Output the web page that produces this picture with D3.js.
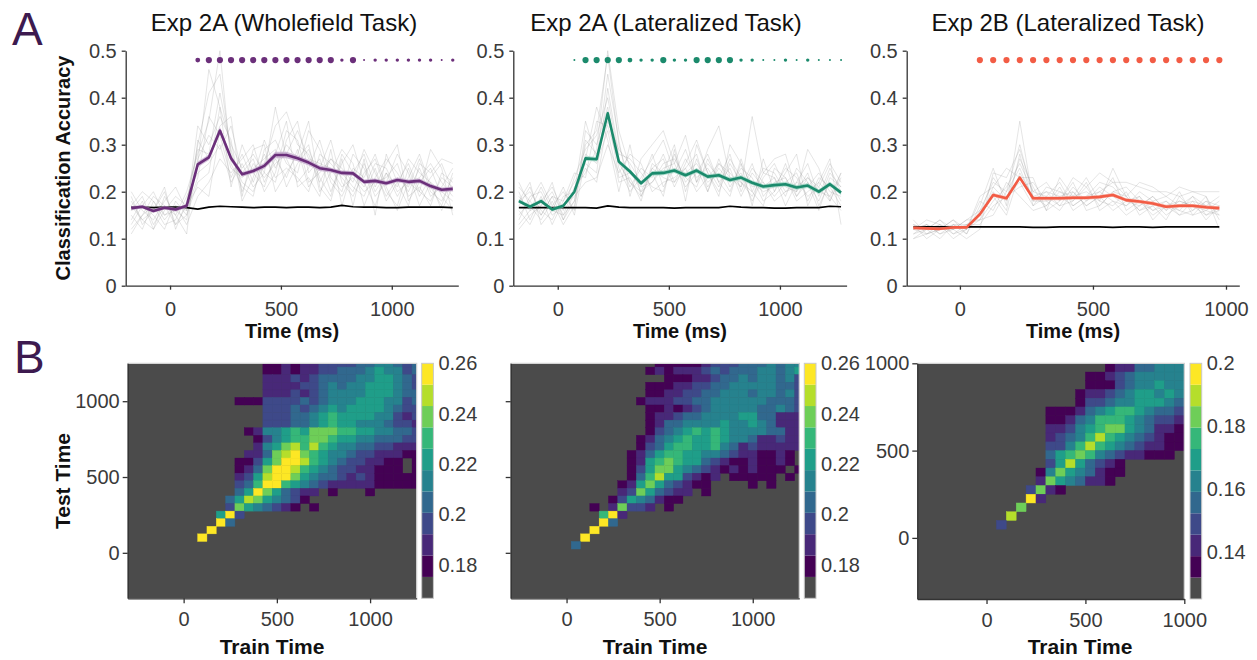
<!DOCTYPE html>
<html>
<head>
<meta charset="utf-8">
<script src="https://cdn.jsdelivr.net/npm/d3@7"></script>
<style>
	body { margin: 0; background: #fff; }
</style>
</head>
<body>
<svg id="fig" width="1257" height="660"></svg>
<script>
// ---- Data: top row (classification accuracy over time) ----

const timesExp2A = [-175, -125, -75, -25, 25, 75, 125, 175, 225, 275, 325, 375, 425, 475, 525, 575, 625, 675, 725, 775, 825, 875, 925, 975, 1025, 1075, 1125, 1175, 1225, 1275]
const timesExp2B = [-175, -125, -75, -25, 25, 75, 125, 175, 225, 275, 325, 375, 425, 475, 525, 575, 625, 675, 725, 775, 825, 875, 925, 975]

const meanWhole = [0.165, 0.168, 0.159, 0.166, 0.162, 0.170, 0.258, 0.273, 0.330, 0.271, 0.237, 0.244, 0.255, 0.278, 0.278, 0.271, 0.262, 0.250, 0.246, 0.240, 0.239, 0.221, 0.223, 0.218, 0.225, 0.221, 0.223, 0.212, 0.204, 0.206]
const semWhole = [0.004, 0.004, 0.004, 0.004, 0.004, 0.004, 0.006, 0.006, 0.007, 0.006, 0.005, 0.005, 0.006, 0.007, 0.007, 0.006, 0.006, 0.006, 0.005, 0.005, 0.005, 0.005, 0.005, 0.005, 0.005, 0.005, 0.005, 0.005, 0.005, 0.005]
const chanceWhole = [0.167, 0.167, 0.166, 0.167, 0.167, 0.166, 0.163, 0.167, 0.169, 0.168, 0.167, 0.166, 0.167, 0.167, 0.166, 0.167, 0.167, 0.166, 0.167, 0.171, 0.168, 0.167, 0.167, 0.166, 0.166, 0.167, 0.167, 0.167, 0.167, 0.166]
// significance class per time point (0 = none, 4 = strongest)
const sigWhole = [0, 0, 0, 0, 0, 0, 3, 4, 4, 4, 4, 4, 4, 4, 4, 4, 4, 4, 4, 2, 4, 1, 2, 2, 2, 2, 2, 2, 1, 2]
const subjectsWhole = [
	'18 14 16 20 13 17 30 41 45 28 22 20 26 34 37 30 28 22 27 24 21 19 25 18 22 26 20 18 23 21',
	'13 17 15 12 18 15 22 24 38 30 25 28 24 22 31 35 24 27 20 26 30 22 17 24 19 23 28 21 17 24',
	'16 19 13 17 15 20 28 35 50 26 21 19 29 31 26 24 33 29 22 19 24 28 21 26 30 18 22 25 19 16',
	'15 12 18 14 17 13 19 22 27 24 27 30 22 27 23 29 21 25 31 22 19 24 27 20 17 25 19 23 26 20',
	'20 16 14 18 21 16 34 30 36 31 18 23 31 25 30 27 30 20 24 29 26 17 23 27 24 20 25 19 21 25',
	'12 15 17 13 14 19 24 26 30 22 26 21 24 38 27 22 25 31 23 20 28 25 19 22 28 24 17 22 20 18',
	'17 20 18 15 16 14 27 32 29 34 24 27 20 24 33 31 22 24 27 25 22 29 24 19 23 21 27 20 18 23',
	'14 18 12 16 19 17 21 19 33 25 23 25 27 29 21 26 29 23 19 28 24 21 26 25 20 22 23 26 22 19',
	'19 13 16 21 12 18 29 28 41 29 20 26 23 26 28 33 27 26 25 21 23 20 22 23 26 19 21 17 24 22',
	'16 17 20 15 17 16 23 36 32 23 28 22 28 23 25 23 20 28 26 23 20 26 20 24 21 27 24 22 16 21',
	'11 15 19 17 13 15 26 46 38 21 30 24 21 28 35 21 23 19 29 17 25 23 28 21 16 22 20 29 25 15',
	'17 14 12 19 15 11 31 27 34 36 19 29 30 20 24 28 35 21 18 27 17 27 15 28 22 17 26 24 27 26'
]

const meanLat = [0.180, 0.168, 0.180, 0.162, 0.170, 0.200, 0.271, 0.269, 0.367, 0.264, 0.243, 0.218, 0.239, 0.240, 0.245, 0.235, 0.245, 0.232, 0.235, 0.225, 0.230, 0.219, 0.211, 0.214, 0.216, 0.209, 0.213, 0.200, 0.216, 0.198]
const semLat = [0.004, 0.004, 0.004, 0.004, 0.004, 0.004, 0.005, 0.005, 0.006, 0.005, 0.005, 0.005, 0.005, 0.005, 0.005, 0.005, 0.005, 0.005, 0.005, 0.005, 0.005, 0.005, 0.005, 0.005, 0.005, 0.005, 0.005, 0.005, 0.005, 0.005]
const chanceLat = [0.166, 0.166, 0.166, 0.166, 0.166, 0.166, 0.166, 0.165, 0.170, 0.167, 0.166, 0.166, 0.166, 0.166, 0.165, 0.166, 0.166, 0.166, 0.166, 0.169, 0.167, 0.166, 0.166, 0.165, 0.165, 0.166, 0.166, 0.166, 0.169, 0.168]
const sigLat = [0, 0, 0, 0, 0, 1, 4, 4, 4, 4, 3, 2, 2, 4, 2, 2, 4, 4, 4, 4, 2, 2, 1, 1, 2, 1, 2, 1, 1, 1]
const subjectsLat = [
	'17 21 15 19 14 18 30 33 49 30 22 19 25 27 21 26 31 24 20 26 22 19 24 23 19 25 22 18 24 21',
	'20 14 19 13 18 22 26 24 42 28 27 24 21 20 28 22 25 20 27 21 25 23 18 20 26 19 23 21 18 23',
	'15 18 22 17 20 16 33 30 38 25 20 23 27 31 24 29 22 26 23 28 20 25 22 19 22 24 18 23 21 17',
	'19 16 17 20 15 21 24 29 50 33 25 20 22 25 26 21 24 28 22 19 27 20 25 24 20 22 26 19 25 20',
	'14 19 20 15 17 19 22 23 30 24 28 26 20 22 23 25 20 23 26 24 21 26 19 22 23 18 20 22 19 24',
	'22 17 14 18 13 17 28 26 33 22 23 18 26 24 30 20 27 21 25 22 24 18 23 26 21 20 24 17 22 18',
	'16 13 18 21 16 23 29 32 40 27 21 25 23 28 22 27 23 25 21 27 23 22 20 21 25 23 19 21 26 22',
	'18 20 16 14 19 20 25 22 35 29 26 22 28 21 25 24 26 22 24 20 26 21 22 18 20 21 23 20 19 16',
	'13 16 21 16 15 18 31 28 37 23 24 21 22 26 27 23 21 27 22 25 19 24 21 23 17 22 21 24 20 19',
	'21 18 15 19 18 24 23 35 34 26 22 20 25 23 22 25 28 20 26 23 22 20 17 25 23 19 22 16 23 21',
	'12 15 17 22 14 20 35 27 45 31 19 27 30 33 26 32 22 29 34 23 21 36 24 27 28 20 29 25 18 24',
	'18 22 13 16 21 15 27 38 31 20 30 19 24 19 29 18 30 24 19 30 26 17 27 20 24 28 17 22 27 13'
]

const mean2B = [0.123, 0.122, 0.121, 0.124, 0.124, 0.152, 0.193, 0.186, 0.230, 0.186, 0.186, 0.186, 0.187, 0.187, 0.189, 0.193, 0.182, 0.179, 0.175, 0.168, 0.170, 0.170, 0.167, 0.165]
const sem2B = [0.003, 0.003, 0.003, 0.003, 0.003, 0.003, 0.004, 0.004, 0.004, 0.004, 0.004, 0.004, 0.004, 0.004, 0.004, 0.004, 0.004, 0.004, 0.004, 0.004, 0.004, 0.004, 0.004, 0.004]
const chance2B = [0.125, 0.125, 0.125, 0.125, 0.125, 0.125, 0.125, 0.125, 0.125, 0.124, 0.124, 0.125, 0.125, 0.125, 0.125, 0.124, 0.125, 0.125, 0.124, 0.125, 0.125, 0.125, 0.125, 0.125]
const sig2B = [0, 0, 0, 0, 0, 4, 4, 4, 4, 4, 4, 4, 4, 4, 4, 4, 4, 4, 4, 4, 4, 4, 4, 4]
const subjects2B = [
	'12 11 13 12 14 16 22 20 30 19 17 20 18 21 17 20 19 16 18 15 17 19 15 16',
	'11 13 12 14 12 14 18 21 26 20 19 17 21 18 20 18 17 19 16 18 16 15 18 17',
	'13 12 10 13 11 17 25 17 35 18 20 19 17 19 22 21 18 17 19 16 18 17 16 15',
	'12 14 13 11 13 13 17 19 21 22 18 16 20 17 19 23 16 18 15 17 15 18 17 19',
	'10 12 14 12 13 15 20 16 28 17 21 20 19 20 18 17 20 15 17 14 19 16 19 14',
	'14 11 12 13 12 18 16 22 19 16 17 21 16 18 21 19 17 20 18 19 17 18 14 17',
	'12 13 11 12 14 14 21 18 27 21 16 18 22 16 17 20 21 18 16 17 16 19 17 16',
	'13 10 12 14 11 16 19 15 24 19 20 17 18 22 16 18 15 17 19 16 20 15 16 18',
	'11 12 13 10 12 15 23 19 22 17 19 22 17 19 20 22 19 16 17 18 15 16 18 15',
	'12 13 11 13 13 14 15 20 25 18 18 19 20 17 19 16 18 19 14 17 18 17 15 17',
	'10 11 12 12 10 12 24 23 29 20 22 18 23 21 24 22 22 21 20 20 19 20 20 20',
	'13 12 14 11 12 19 21 25 23 23 16 23 19 23 18 25 19 22 21 19 21 20 19 12'
]

// ---- Data: bottom row (temporal generalization) ----
// each character is the colour band (0 = grey, 1..A = viridis bands)

const trainB1 = [100, 150, 200, 250, 300, 350, 400, 450, 500, 550, 600, 650, 700, 750, 800, 850, 900, 950, 1000, 1050, 1100, 1150, 1200, 1250]
const testB1 = [1250, 1200, 1150, 1100, 1050, 1000, 950, 900, 850, 800, 750, 700, 650, 600, 550, 500, 450, 400, 350, 300, 250, 200, 150, 100]
const gridB1 = [
	'000000011212233334455434',
	'000000011212233444565534',
	'000000022232344445566543',
	'000000022223345455666543',
	'000000022232345555666544',
	'000011133334345556665534',
	'000000033343456566665433',
	'000000033344567666655323',
	'000000033344567665554332',
	'000001255676888776655443',
	'000000135677887665544433',
	'000000256897976554433222',
	'0000022489A8765543322211',
	'000011368AA9765433221101',
	'00001248AA97654332211101',
	'00002369AA86544323211111',
	'0000347AA765432222211111',
	'000046A86432201000100000',
	'0004698654310',
	'0003865432101',
	'006A3',
	'00A4',
	'0A',
	'A'
]

const trainB2 = [50, 100, 150, 200, 250, 300, 350, 400, 450, 500, 550, 600, 650, 700, 750, 800, 850, 900, 950, 1000, 1050, 1100, 1150, 1200, 1250]
const testB2 = [1250, 1200, 1150, 1100, 1050, 1000, 950, 900, 850, 800, 750, 700, 650, 600, 550, 500, 450, 400, 350, 300, 250, 200, 150, 100, 50]
const gridB2 = [
	'0000000001111123334445455',
	'0000000012122234344455456',
	'0000000000111223445455453',
	'0000000011122334455555443',
	'0000000011223344555455453',
	'0000000122233445555554443',
	'0000000011212345555544543',
	'0000000012234455556644222',
	'0000000012445555655654222',
	'0000000013456767655554422',
	'0000000124567667655422322',
	'0000000134677667542322222',
	'0000001246776655432211210',
	'0000001267876643211211210',
	'0000001368865432121211101',
	'0000001479663212011111010',
	'0000012686432110000101',
	'000002386432201',
	'000013654211',
	'00102833201',
	'0007A2',
	'000A4',
	'00A',
	'0A',
	'4'
]

const trainB3 = [75, 125, 175, 225, 275, 325, 375, 425, 475, 525, 575, 625, 675, 725, 775, 825, 875, 925, 975]
const testB3 = [975, 925, 875, 825, 775, 725, 675, 625, 575, 525, 475, 425, 375, 325, 275, 225, 175, 125, 75]
const gridB3 = [
	'0000000000012244555',
	'0000000001123455555',
	'0000000001113455655',
	'0000000012234566565',
	'0000000013345566654',
	'0000011124567765443',
	'0000011245777654332',
	'0000022356788654221',
	'0000023457976543211',
	'0000033579765432211',
	'0000046787543221110',
	'0000036964321',
	'0000158654211',
	'000028654221',
	'0003821',
	'000A2',
	'008',
	'09',
	'3'
]

const colorbarTicksA = [0.18, 0.2, 0.22, 0.24, 0.26]
const colorbarTicksB = [0.14, 0.16, 0.18, 0.2]

// ---- Drawing ----

const svg = d3.select('#fig')
const font = '"Liberation Sans", Arial, Helvetica, sans-serif'
const heatGrey = '#4b4b4b'

function styleAxis(g, size) {
	g.attr('font-family', font).attr('font-size', size)
	g.select('.domain').attr('stroke', '#333').attr('stroke-width', 1.3)
	g.selectAll('.tick line').attr('stroke', '#333').attr('stroke-width', 1.3)
	g.selectAll('.tick text').attr('fill', '#3a3a3a')
}

function label(text, x, y, opts = {}) {
	const t = svg
		.append('text')
		.attr('x', x)
		.attr('y', y)
		.attr('text-anchor', opts.anchor || 'middle')
		.attr('font-family', font)
		.attr('font-size', opts.size || 20)
		.attr('font-weight', opts.weight || 'normal')
		.attr('fill', opts.fill || '#111')
		.text(text)
	if (opts.rotate) t.attr('transform', `rotate(-90,${x},${y})`)
	return t
}

function drawLinePanel(p) {
	const x = d3.scaleLinear().domain(p.xDomain).range(p.xRange)
	const y = d3.scaleLinear().domain([0, 0.5]).range([285.7, 50.7])
	const r = d3.scaleOrdinal().domain([1, 2, 3, 4]).range([1.0, 1.7, 2.4, 3.1])
	const g = svg.append('g')

	g.append('g')
		.attr('transform', `translate(0,${y(0)})`)
		.call(
			d3
				.axisBottom(x)
				.tickValues([0, 500, 1000])
				.tickFormat(d3.format('d'))
				.tickSize(4)
				.tickSizeOuter(0)
				.tickPadding(12)
		)
		.call((a) => styleAxis(a, 20))

	g.append('g')
		.attr('transform', `translate(${x(p.xDomain[0])},0)`)
		.call(
			d3
				.axisLeft(y)
				.tickValues([0, 0.1, 0.2, 0.3, 0.4, 0.5])
				.tickFormat((d) => (d === 0 ? '0' : d3.format('.1f')(d)))
				.tickSize(4)
				.tickSizeOuter(0)
				.tickPadding(5)
		)
		.call((a) => styleAxis(a, 20))

	const line = d3
		.line()
		.x((d, i) => x(p.times[i]))
		.y((d) => y(d))

	p.subjects.forEach((s) => {
		const vals = s.split(' ').map((v) => +v / 100)
		g.append('path')
			.datum(vals)
			.attr('fill', 'none')
			.attr('stroke', '#8a8a8a')
			.attr('stroke-opacity', 0.32)
			.attr('stroke-width', 0.7)
			.attr('d', line)
	})

	g.append('path')
		.datum(p.chance)
		.attr('fill', 'none')
		.attr('stroke', '#000')
		.attr('stroke-width', 1.7)
		.attr('d', line)

	const band = d3
		.area()
		.x((d, i) => x(p.times[i]))
		.y0((d, i) => y(d - p.sem[i]))
		.y1((d, i) => y(d + p.sem[i]))

	g.append('path').datum(p.mean).attr('fill', p.band).attr('fill-opacity', 0.7).attr('d', band)

	g.append('path')
		.datum(p.mean)
		.attr('fill', 'none')
		.attr('stroke', p.color)
		.attr('stroke-width', 2.6)
		.attr('stroke-linejoin', 'round')
		.attr('d', line)

	g.selectAll('.sig')
		.data(p.sig.map((s, i) => ({ t: p.times[i], s })).filter((d) => d.s > 0))
		.enter()
		.append('circle')
		.attr('class', 'sig')
		.attr('cx', (d) => x(d.t))
		.attr('cy', y(0.48))
		.attr('r', (d) => r(d.s))
		.attr('fill', p.color)

	label(p.title, p.titleX, 31, { size: 24 })
	label('Time (ms)', (p.xRange[0] + p.xRange[1]) / 2, 338, { weight: 'bold' })
}

function drawHeatmap(h) {
	const x = d3.scaleLinear().domain(h.domain).range(h.xRange)
	const y = d3.scaleLinear().domain(h.domain).range(h.yRange)
	const bands = [heatGrey].concat(d3.range(10).map((i) => d3.interpolateViridis(i / 9)))
	const color = d3.scaleQuantize().domain([h.lo, h.hi]).range(bands)
	const step = (h.hi - h.lo) / bands.length
	const g = svg.append('g')
	const clip = 'clip-' + h.id

	g.append('clipPath')
		.attr('id', clip)
		.append('rect')
		.attr('x', h.xRange[0])
		.attr('y', h.yRange[1])
		.attr('width', h.xRange[1] - h.xRange[0])
		.attr('height', h.yRange[0] - h.yRange[1])

	g.append('rect')
		.attr('x', h.xRange[0])
		.attr('y', h.yRange[1])
		.attr('width', h.xRange[1] - h.xRange[0])
		.attr('height', h.yRange[0] - h.yRange[1])
		.attr('fill', heatGrey)

	const cells = []
	h.grid.forEach((row, i) => {
		row.padEnd(h.train.length, '0')
			.split('')
			.forEach((ch, j) => {
				const band = parseInt(ch, 16)
				if (band > 0) cells.push({ train: h.train[j], test: h.test[i], value: h.lo + (band + 0.5) * step })
			})
	})

	g.append('g')
		.attr('clip-path', `url(#${clip})`)
		.selectAll('rect')
		.data(cells)
		.enter()
		.append('rect')
		.attr('x', (d) => x(d.train - 25))
		.attr('y', (d) => y(d.test + 25))
		.attr('width', (d) => x(d.train + 25) - x(d.train - 25))
		.attr('height', (d) => y(d.test - 25) - y(d.test + 25))
		.attr('fill', (d) => color(d.value))
		.attr('stroke', (d) => color(d.value))
		.attr('stroke-width', 0.4)

	// light frame on top and right
	g.append('path')
		.attr('d', `M${h.xRange[0]},${h.yRange[1]}H${h.xRange[1]}V${h.yRange[0]}`)
		.attr('fill', 'none')
		.attr('stroke', '#d4d4d4')
		.attr('stroke-width', 1.2)

	g.append('g')
		.attr('transform', `translate(0,${h.yRange[0]})`)
		.call(
			d3
				.axisBottom(x)
				.tickValues([0, 500, 1000])
				.tickFormat(d3.format('d'))
				.tickSize(5)
				.tickSizeOuter(0)
				.tickPadding(9)
		)
		.call((a) => styleAxis(a, 20))

	g.append('g')
		.attr('transform', `translate(${h.xRange[0]},0)`)
		.call(
			d3
				.axisLeft(y)
				.tickValues([0, 500, 1000])
				.tickFormat(h.yLabels ? d3.format('d') : () => '')
				.tickSize(5)
				.tickSizeOuter(0)
				.tickPadding(3)
		)
		.call((a) => styleAxis(a, 20))

	// colour bar
	const cy = d3.scaleLinear().domain([h.lo, h.hi]).range(h.yRange)
	const cb = g.append('g')
	cb.selectAll('rect')
		.data(color.range())
		.enter()
		.append('rect')
		.attr('x', h.cbX)
		.attr('y', (c) => cy(color.invertExtent(c)[1]))
		.attr('width', 11.7)
		.attr('height', (c) => cy(color.invertExtent(c)[0]) - cy(color.invertExtent(c)[1]))
		.attr('fill', (c) => c)
	cb.append('rect')
		.attr('x', h.cbX)
		.attr('y', h.yRange[1])
		.attr('width', 11.7)
		.attr('height', h.yRange[0] - h.yRange[1])
		.attr('fill', 'none')
		.attr('stroke', '#c8c8c8')
		.attr('stroke-width', 1)

	cb.append('g')
		.attr('transform', `translate(${h.cbX + 11.7},0)`)
		.call(d3.axisRight(cy).tickValues(h.cbTicks).tickFormat(d3.format('~g')).tickSize(0).tickPadding(5))
		.call((a) => {
			styleAxis(a, 20)
			a.select('.domain').remove()
		})

	label('Train Time', h.trainLabelX, 654, { weight: 'bold', size: 21 })
}

drawLinePanel({
	title: 'Exp 2A (Wholefield Task)',
	titleX: 284,
	xDomain: [-200, 1300],
	xRange: [125.7, 458.3],
	times: timesExp2A,
	mean: meanWhole,
	sem: semWhole,
	chance: chanceWhole,
	sig: sigWhole,
	subjects: subjectsWhole,
	color: '#6b2f7a',
	band: '#bfa3c9',
})

drawLinePanel({
	title: 'Exp 2A (Lateralized Task)',
	titleX: 666,
	xDomain: [-200, 1300],
	xRange: [513.3, 846.6],
	times: timesExp2A,
	mean: meanLat,
	sem: semLat,
	chance: chanceLat,
	sig: sigLat,
	subjects: subjectsLat,
	color: '#1b8a6c',
	band: '#97d2bf',
})

drawLinePanel({
	title: 'Exp 2B (Lateralized Task)',
	titleX: 1068,
	xDomain: [-200, 1050],
	xRange: [906.7, 1239.3],
	times: timesExp2B,
	mean: mean2B,
	sem: sem2B,
	chance: chance2B,
	sig: sig2B,
	subjects: subjects2B,
	color: '#f25c45',
	band: '#f9ad9f',
})

drawHeatmap({
	id: 'b1',
	domain: [-300, 1250],
	xRange: [127.7, 416.7],
	yRange: [598.3, 363.3],
	train: trainB1,
	test: testB1,
	grid: gridB1,
	lo: 1 / 6,
	hi: 0.26,
	cbX: 421.7,
	cbTicks: colorbarTicksA,
	yLabels: true,
	trainLabelX: 272,
})

drawHeatmap({
	id: 'b2',
	domain: [-300, 1250],
	xRange: [510.7, 799.3],
	yRange: [598.3, 363.3],
	train: trainB2,
	test: testB2,
	grid: gridB2,
	lo: 1 / 6,
	hi: 0.26,
	cbX: 804.3,
	cbTicks: colorbarTicksA,
	yLabels: false,
	trainLabelX: 655,
})

drawHeatmap({
	id: 'b3',
	domain: [-350, 1000],
	xRange: [917.3, 1184.3],
	yRange: [599, 363.3],
	train: trainB3,
	test: testB3,
	grid: gridB3,
	lo: 0.125,
	hi: 0.2,
	cbX: 1190,
	cbTicks: colorbarTicksB,
	yLabels: true,
	trainLabelX: 1080,
})

label('Classification Accuracy', 70, 168, { weight: 'bold', rotate: true })
label('Test Time', 70, 481, { weight: 'bold', size: 21, rotate: true })
label('A', 12, 45, { anchor: 'start', size: 46, fill: '#3d1a4f' })
label('B', 14, 373, { anchor: 'start', size: 46, fill: '#3d1a4f' })
</script>
</body>
</html>
